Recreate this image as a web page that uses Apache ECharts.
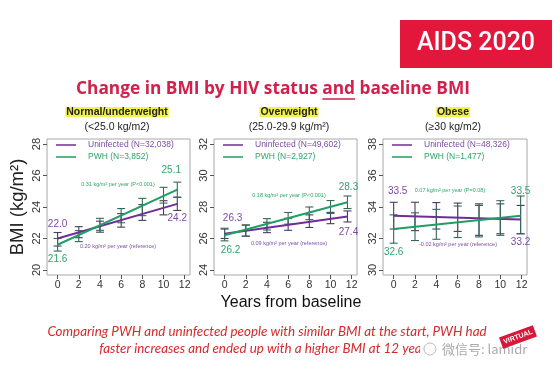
<!DOCTYPE html>
<html><head><meta charset="utf-8">
<script src="https://cdn.jsdelivr.net/npm/echarts@6/dist/echarts.min.js"></script>
<style>html,body{margin:0;padding:0;background:#fff}#c{width:554px;height:379px}</style>
</head><body><div id="c"></div>
<script>
// ---------- data ----------
const panelTitles = ['Normal/underweight', 'Overweight', 'Obese'];
const panelSubtitles = ['(<25.0 kg/m2)', '(25.0-29.9 kg/m\u00b2)', '(\u226530 kg/m2)'];
const uninNames = ['Uninfected (N=32,038)', 'Uninfected (N=49,602)', 'Uninfected (N=48,326)'];
const pwhNames = ['PWH (N=3,852)', 'PWH (N=2,927)', 'PWH (N=1,477)'];
const yMins = [20, 24, 30];
const yMaxs = [28, 32, 38];
const xTicks = [0, 2, 4, 6, 8, 10, 12];

const years1 = [0, 2, 4, 6, 8, 10, 11.3];
const uninMean1 = [21.95, 22.4, 22.75, 23.15, 23.65, 23.95, 24.2];
const uninCI1 = [0.43, 0.35, 0.35, 0.43, 0.5, 0.45, 0.42];
const pwhMean1 = [21.6, 22.15, 22.9, 23.45, 24.0, 24.75, 25.1];
const pwhCI1 = [0.4, 0.35, 0.38, 0.45, 0.55, 0.5, 0.48];
const uninFit1 = [22.0, 24.2];
const pwhFit1 = [21.6, 25.1];

const years2 = [0, 2, 4, 6, 8, 10, 11.6];
const uninMean2 = [26.3, 26.5, 26.7, 26.9, 27.1, 27.3, 27.4];
const uninCI2 = [0.3, 0.35, 0.33, 0.38, 0.4, 0.36, 0.35];
const pwhMean2 = [26.25, 26.5, 26.9, 27.28, 27.6, 28.0, 28.3];
const pwhCI2 = [0.4, 0.36, 0.36, 0.37, 0.4, 0.41, 0.4];
const uninFit2 = [26.3, 27.4];
const pwhFit2 = [26.2, 28.3];

const years3 = [0, 2, 4, 6, 8, 10, 11.9];
const uninMean3 = [33.45, 33.4, 33.44, 33.35, 33.2, 33.25, 33.2];
const uninCI3 = [0.85, 0.9, 0.84, 0.9, 1.0, 0.95, 0.9];
const pwhMean3 = [32.6, 32.75, 32.9, 33.06, 33.1, 33.3, 33.5];
const pwhCI3 = [0.9, 0.88, 0.95, 1.0, 1.0, 1.1, 1.2];
const uninFit3 = [33.45, 33.2];
const pwhFit3 = [32.6, 33.45];

const uninEndLabels = [['22.0', '24.2'], ['26.3', '27.4'], ['33.5', '33.2']];
const pwhEndLabels = [['21.6', '25.1'], ['26.2', '28.3'], ['32.6', '33.5']];
const pwhSlopeText = ['0.31 kg/m\u00b2 per year (P<0.001)', '0.18 kg/m\u00b2 per year (P<0.001)', '0.07 kg/m\u00b2 per year (P=0.08)'];
const uninSlopeText = ['0.20 kg/m\u00b2 per year (reference)', '0.09 kg/m\u00b2 per year (reference)', '-0.02 kg/m\u00b2 per year (reference)'];
// annotation anchor points in data space [x, y]
const pwhSlopePos = [[5.7, 25.46], [6.08, 28.76], [5.28, 35.08]];
const uninSlopePos = [[5.7, 21.46], [6.08, 25.71], [6.03, 31.59]];

const years = [years1, years2, years3];
const uninMean = [uninMean1, uninMean2, uninMean3];
const uninCI = [uninCI1, uninCI2, uninCI3];
const pwhMean = [pwhMean1, pwhMean2, pwhMean3];
const pwhCI = [pwhCI1, pwhCI2, pwhCI3];
const uninFit = [uninFit1, uninFit2, uninFit3];
const pwhFit = [pwhFit1, pwhFit2, pwhFit3];

// ---------- styling ----------
const P_LINE = '#6E2E96', G_LINE = '#1E9F63';
const P_TXT = '#7C4BA6', G_TXT = '#2FA56B';
const P_ERR = '#4a3a60', G_ERR = '#36685a';
const FONT = '"Liberation Sans", Arial, sans-serif';
const gridLefts = [47, 214, 383];
const gridWidths = [143, 143, 144];
const GRID_TOP = 139, GRID_H = 136;
const PAD = 0.32;

const uninLabPos = [
  [{p:'top', d:9, o:[0,0]}, {p:'bottom', d:9, o:[0,0]}],
  [{p:'top', d:10, o:[8,0]}, {p:'bottom', d:10, o:[1,0]}],
  [{p:'top', d:19, o:[4,0]}, {p:'bottom', d:17, o:[0,0]}]
];
const pwhLabPos = [
  [{p:'bottom', d:9, o:[0,0]}, {p:'top', d:14, o:[-6,0]}],
  [{p:'bottom', d:9, o:[6,0]}, {p:'top', d:10, o:[1,0]}],
  [{p:'bottom', d:18, o:[0,0]}, {p:'top', d:19, o:[0,0]}]
];

function errSeries(i, mean, ci, color) {
  return {
    type: 'custom', xAxisIndex: i, yAxisIndex: i, z: 3, silent: true,
    encode: {x: 0, y: [1, 2]},
    data: years[i].map((x, k) => [x, mean[k] - ci[k], mean[k] + ci[k]]),
    renderItem: (params, api) => {
      const lo = api.coord([api.value(0), api.value(1)]);
      const hi = api.coord([api.value(0), api.value(2)]);
      const w = 4;
      const st = {stroke: color, lineWidth: 1.1};
      return {type: 'group', children: [
        {type: 'line', shape: {x1: lo[0], y1: lo[1], x2: hi[0], y2: hi[1]}, style: st},
        {type: 'line', shape: {x1: lo[0] - w, y1: lo[1], x2: lo[0] + w, y2: lo[1]}, style: st},
        {type: 'line', shape: {x1: hi[0] - w, y1: hi[1], x2: hi[0] + w, y2: hi[1]}, style: st}
      ]};
    }
  };
}

function fitSeries(i, name, fit, labels, pos, lineColor, txtColor, slopeText, slopePos) {
  const xs = years[i];
  const mk = (k) => ({
    value: [k === 0 ? xs[0] : xs[xs.length - 1], fit[k]],
    label: {show: true, formatter: labels[k], position: pos[k].p, distance: pos[k].d,
      offset: pos[k].o, color: txtColor, fontSize: 10, fontFamily: FONT}
  });
  return {
    type: 'line', name, xAxisIndex: i, yAxisIndex: i, z: 4,
    symbol: 'circle', symbolSize: 1, showSymbol: true, silent: true,
    lineStyle: {color: lineColor, width: 2}, itemStyle: {color: lineColor},
    data: [mk(0), mk(1)],
    markPoint: {
      silent: true, symbol: 'rect', symbolSize: [1, 1], itemStyle: {color: 'rgba(0,0,0,0)'},
      label: {show: true, position: 'inside', color: txtColor, fontSize: 5.5, fontFamily: FONT,
        formatter: slopeText},
      data: [{coord: slopePos}]
    }
  };
}

const grids = [], xAxes = [], yAxes = [], series = [], legends = [];
for (let i = 0; i < 3; i++) {
  grids.push({left: gridLefts[i], top: GRID_TOP, width: gridWidths[i], height: GRID_H,
    show: true, borderColor: '#a8a8a8', borderWidth: 1, backgroundColor: '#fff'});
  xAxes.push({gridIndex: i, type: 'value', min: -1, max: 12.5, position: 'bottom',
    axisLine: {show: false, onZero: false}, splitLine: {show: false},
    axisTick: {show: true, inside: false, customValues: xTicks, length: 4, lineStyle: {color: '#555'}},
    axisLabel: {customValues: xTicks, fontSize: 10.5, color: '#333', margin: 5, fontFamily: FONT}});
  const yt = [];
  for (let v = yMins[i]; v <= yMaxs[i]; v += 2) yt.push(v);
  yAxes.push({gridIndex: i, type: 'value', min: yMins[i] - PAD, max: yMaxs[i] + PAD, position: 'left',
    axisLine: {show: false, onZero: false}, splitLine: {show: false},
    axisTick: {show: true, inside: false, customValues: yt, length: 4, lineStyle: {color: '#555'}},
    axisLabel: {customValues: yt, fontSize: 11, color: '#333', margin: 5, rotate: 90, fontFamily: FONT},
    name: i === 0 ? 'BMI (kg/m\u00b2)' : '', nameLocation: 'middle', nameGap: 20, nameRotate: 90,
    nameTextStyle: {fontSize: 18.5, color: '#222', fontFamily: FONT}});
  series.push(errSeries(i, uninMean[i], uninCI[i], P_ERR));
  series.push(errSeries(i, pwhMean[i], pwhCI[i], G_ERR));
  series.push(fitSeries(i, uninNames[i], uninFit[i], uninEndLabels[i], uninLabPos[i], P_LINE, P_TXT, uninSlopeText[i], uninSlopePos[i]));
  series.push(fitSeries(i, pwhNames[i], pwhFit[i], pwhEndLabels[i], pwhLabPos[i], G_LINE, G_TXT, pwhSlopeText[i], pwhSlopePos[i]));
  legends.push({
    orient: 'vertical', left: gridLefts[i] + 9, top: 140, padding: 0, itemGap: 2,
    icon: 'rect', itemWidth: 20, itemHeight: 1.5, selectedMode: false,
    textStyle: {fontSize: 8.5, fontFamily: FONT, padding: [0, 0, 0, 7], lineHeight: 10},
    data: [{name: uninNames[i], textStyle: {color: P_TXT}}, {name: pwhNames[i], textStyle: {color: G_TXT}}]
  });
}

// ---------- title measurement for underline ----------
const TITLE = 'Change in BMI by HIV status and baseline BMI';
const TITLE_FONT = 'bold 17.3px "Open Sans"';
const mctx = document.createElement('canvas').getContext('2d');
mctx.font = TITLE_FONT;
const tW = mctx.measureText(TITLE).width;
const preW = mctx.measureText('Change in BMI by HIV status ').width;
const andW = mctx.measureText('and').width;
const TCX = 273, TCY = 89;
const tLeft = TCX - tW / 2;

const headerCx = [117, 289, 453];
const graphics = [
  {type: 'rect', shape: {x: 400, y: 20, width: 152, height: 48}, style: {fill: '#E2173B'}},
  {type: 'text', x: 476, y: 44, style: {text: 'AIDS 2020', fill: '#fff', font: '500 25px Roboto', align: 'center', verticalAlign: 'middle'}},
  {type: 'text', x: TCX, y: TCY, style: {text: TITLE, fill: '#D1204B', font: TITLE_FONT, align: 'center', verticalAlign: 'middle'}},
  {type: 'line', shape: {x1: tLeft + preW, y1: TCY + 10, x2: tLeft + preW + andW, y2: TCY + 10}, style: {stroke: '#D1204B', lineWidth: 1.5}},
  {type: 'text', x: 291, y: 303, style: {text: 'Years from baseline', fill: '#111', font: '16px ' + FONT, align: 'center', verticalAlign: 'middle'}},
  {type: 'text', x: 267, y: 332, style: {text: 'Comparing PWH and uninfected people with similar BMI at the start, PWH had', fill: '#D42B2B', font: 'italic 13.4px Lato', align: 'center', verticalAlign: 'middle'}},
  {type: 'text', x: 267, y: 349, style: {text: 'faster increases and ended up with a higher BMI at 12 years.', fill: '#D42B2B', font: 'italic 13.4px Lato', align: 'center', verticalAlign: 'middle'}},
  {type: 'rect', shape: {x: 420, y: 339, width: 125, height: 20}, style: {fill: 'rgba(255,255,255,0.93)'}},
  {type: 'circle', shape: {cx: 430, cy: 349, r: 6}, style: {fill: 'none', stroke: '#bbb', lineWidth: 1}},
  {type: 'text', x: 442, y: 349, style: {text: '\u5fae\u4fe1\u53f7: lamidr', fill: '#aaa', font: '13px "Noto Sans CJK SC"', verticalAlign: 'middle'}},
  {type: 'group', x: 518, y: 337, rotation: 0.35, children: [
    {type: 'rect', shape: {x: -18, y: -6, width: 36, height: 12}, style: {fill: '#D6183A'}},
    {type: 'text', x: 0, y: 0, style: {text: 'VIRTUAL', fill: '#fff', font: 'bold 7px ' + FONT, align: 'center', verticalAlign: 'middle'}}
  ]}
];
for (let i = 0; i < 3; i++) {
  graphics.push({type: 'text', x: headerCx[i], y: 112, style: {text: panelTitles[i], fill: '#222', font: 'bold 10.5px ' + FONT,
    align: 'center', verticalAlign: 'middle', backgroundColor: '#F2F24C', padding: [0, 1, -1, 1]}});
  graphics.push({type: 'text', x: headerCx[i], y: 127, style: {text: panelSubtitles[i], fill: '#222', font: '10.5px ' + FONT,
    align: 'center', verticalAlign: 'middle'}});
}

const chart = echarts.init(document.getElementById('c'), null, {renderer: 'canvas', width: 554, height: 379});
chart.setOption({
  backgroundColor: '#fff',
  animation: false,
  grid: grids, xAxis: xAxes, yAxis: yAxes, series, legend: legends,
  graphic: graphics
});
</script>
</body></html>
